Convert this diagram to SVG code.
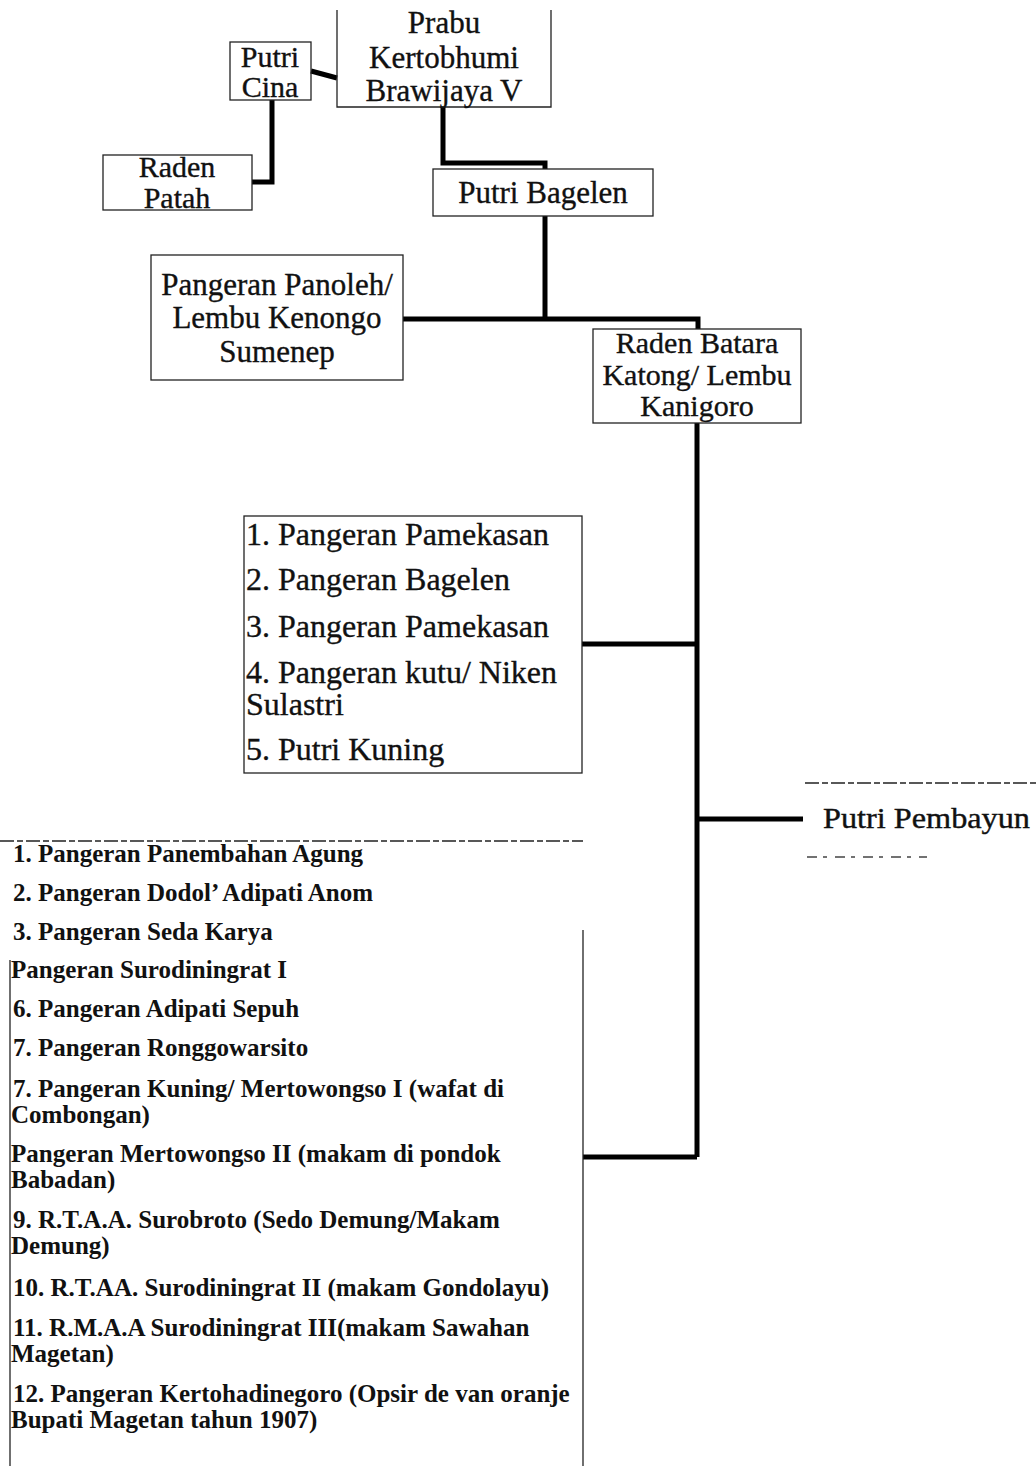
<svg xmlns="http://www.w3.org/2000/svg" width="1036" height="1466" viewBox="0 0 1036 1466">
<style>
.bg{fill:#ffffff}
.box{fill:none;stroke:#222;stroke-width:1.3}
.dash{fill:none;stroke:#222;stroke-width:1.3;stroke-dasharray:14 3 6 3}
.sparse{fill:none;stroke:#444;stroke-width:1.3;stroke-dasharray:10 6 4 8}
.con{fill:none;stroke:#000;stroke-width:5;stroke-linejoin:miter;stroke-linecap:butt}
.t{font-family:"Liberation Serif","Times New Roman",serif;font-size:31px;fill:#111;stroke:#111;stroke-width:0.35}
.ts{font-family:"Liberation Serif","Times New Roman",serif;font-size:30px;fill:#111;stroke:#111;stroke-width:0.35}
.tc{text-anchor:middle}
.l1{font-family:"Liberation Serif","Times New Roman",serif;font-size:32px;fill:#111;stroke:#111;stroke-width:0.35}
.l2{font-family:"Liberation Serif","Times New Roman",serif;font-size:25px;font-weight:bold;fill:#111}
.pb{font-family:"Liberation Serif","Times New Roman",serif;font-size:29px;fill:#111;stroke:#111;stroke-width:0.4}
</style>
<rect class="bg" x="0" y="0" width="1036" height="1466"/>

<g id="connectors">
  <path class="con" d="M311,71 L337,78"/>
  <path class="con" d="M272,100 V182 H252"/>
  <path class="con" d="M443,107 V163 H545 V169"/>
  <path class="con" d="M545,216 V319"/>
  <path class="con" d="M403,319 H698 V329"/>
  <path class="con" d="M697,423 V1157"/>
  <path class="con" d="M582,644 H697"/>
  <path class="con" d="M697,819 H803" stroke-linecap="round"/>
  <path class="con" d="M583,1157 H697"/>
</g>

<g id="prabu">
  <path class="box" d="M337,10 V107 H551 V10"/>
  <text class="t tc" x="444" y="33">Prabu</text>
  <text class="t tc" x="444" y="68">Kertobhumi</text>
  <text class="t tc" x="444" y="101">Brawijaya V</text>
</g>

<g id="putri-cina">
  <rect class="box" x="230" y="42" width="81" height="58"/>
  <text class="ts tc" x="270" y="67">Putri</text>
  <text class="ts tc" x="270" y="97">Cina</text>
</g>

<g id="raden-patah">
  <rect class="box" x="103" y="155" width="149" height="55"/>
  <text class="ts tc" x="177" y="177">Raden</text>
  <text class="ts tc" x="177" y="208">Patah</text>
</g>

<g id="putri-bagelen">
  <rect class="box" x="433" y="169" width="220" height="47"/>
  <text class="t tc" x="543" y="203">Putri Bagelen</text>
</g>

<g id="pangeran-panoleh">
  <rect class="box" x="151" y="255" width="252" height="125"/>
  <text class="t tc" x="277" y="295">Pangeran Panoleh/</text>
  <text class="t tc" x="277" y="328">Lembu Kenongo</text>
  <text class="t tc" x="277" y="362">Sumenep</text>
</g>

<g id="raden-batara">
  <rect class="box" x="593" y="329" width="208" height="94"/>
  <text class="ts tc" x="697" y="353">Raden Batara</text>
  <text class="ts tc" x="697" y="385">Katong/ Lembu</text>
  <text class="ts tc" x="697" y="416">Kanigoro</text>
</g>

<g id="children-1">
  <rect class="box" x="244" y="516" width="338" height="257"/>
  <text class="l1" x="246" y="545">1. Pangeran Pamekasan</text>
  <text class="l1" x="246" y="590">2. Pangeran Bagelen</text>
  <text class="l1" x="246" y="637">3. Pangeran Pamekasan</text>
  <text class="l1" x="246" y="683">4. Pangeran kutu/ Niken</text>
  <text class="l1" x="246" y="715">Sulastri</text>
  <text class="l1" x="246" y="760">5. Putri Kuning</text>
</g>

<g id="putri-pembayun">
  <path class="dash" d="M805,783 H1036"/>
  <path class="sparse" d="M807,857 H927"/>
  <text class="pb" x="823" y="828" textLength="207" lengthAdjust="spacingAndGlyphs">Putri Pembayun</text>
</g>

<g id="children-2">
  <path class="dash" d="M0,841 H583"/>
  <path class="box" d="M583,930 V1470"/>
  <path class="box" d="M10,960 V1470"/>
  <text class="l2" x="13" y="862">1. Pangeran Panembahan Agung</text>
  <text class="l2" x="13" y="901">2. Pangeran Dodol’ Adipati Anom</text>
  <text class="l2" x="13" y="940">3. Pangeran Seda Karya</text>
  <text class="l2" x="11" y="978">Pangeran Surodiningrat I</text>
  <text class="l2" x="13" y="1017">6. Pangeran Adipati Sepuh</text>
  <text class="l2" x="13" y="1056">7. Pangeran Ronggowarsito</text>
  <text class="l2" x="13" y="1097">7. Pangeran Kuning/ Mertowongso I (wafat di</text>
  <text class="l2" x="11" y="1123">Combongan)</text>
  <text class="l2" x="11" y="1162">Pangeran Mertowongso II (makam di pondok</text>
  <text class="l2" x="11" y="1188">Babadan)</text>
  <text class="l2" x="13" y="1228">9. R.T.A.A. Surobroto (Sedo Demung/Makam</text>
  <text class="l2" x="11" y="1254">Demung)</text>
  <text class="l2" x="13" y="1296">10. R.T.AA. Surodiningrat II (makam Gondolayu)</text>
  <text class="l2" x="13" y="1336">11. R.M.A.A Surodiningrat III(makam Sawahan</text>
  <text class="l2" x="11" y="1362">Magetan)</text>
  <text class="l2" x="13" y="1402">12. Pangeran Kertohadinegoro (Opsir de van oranje</text>
  <text class="l2" x="11" y="1428">Bupati Magetan tahun 1907)</text>
</g>
</svg>
